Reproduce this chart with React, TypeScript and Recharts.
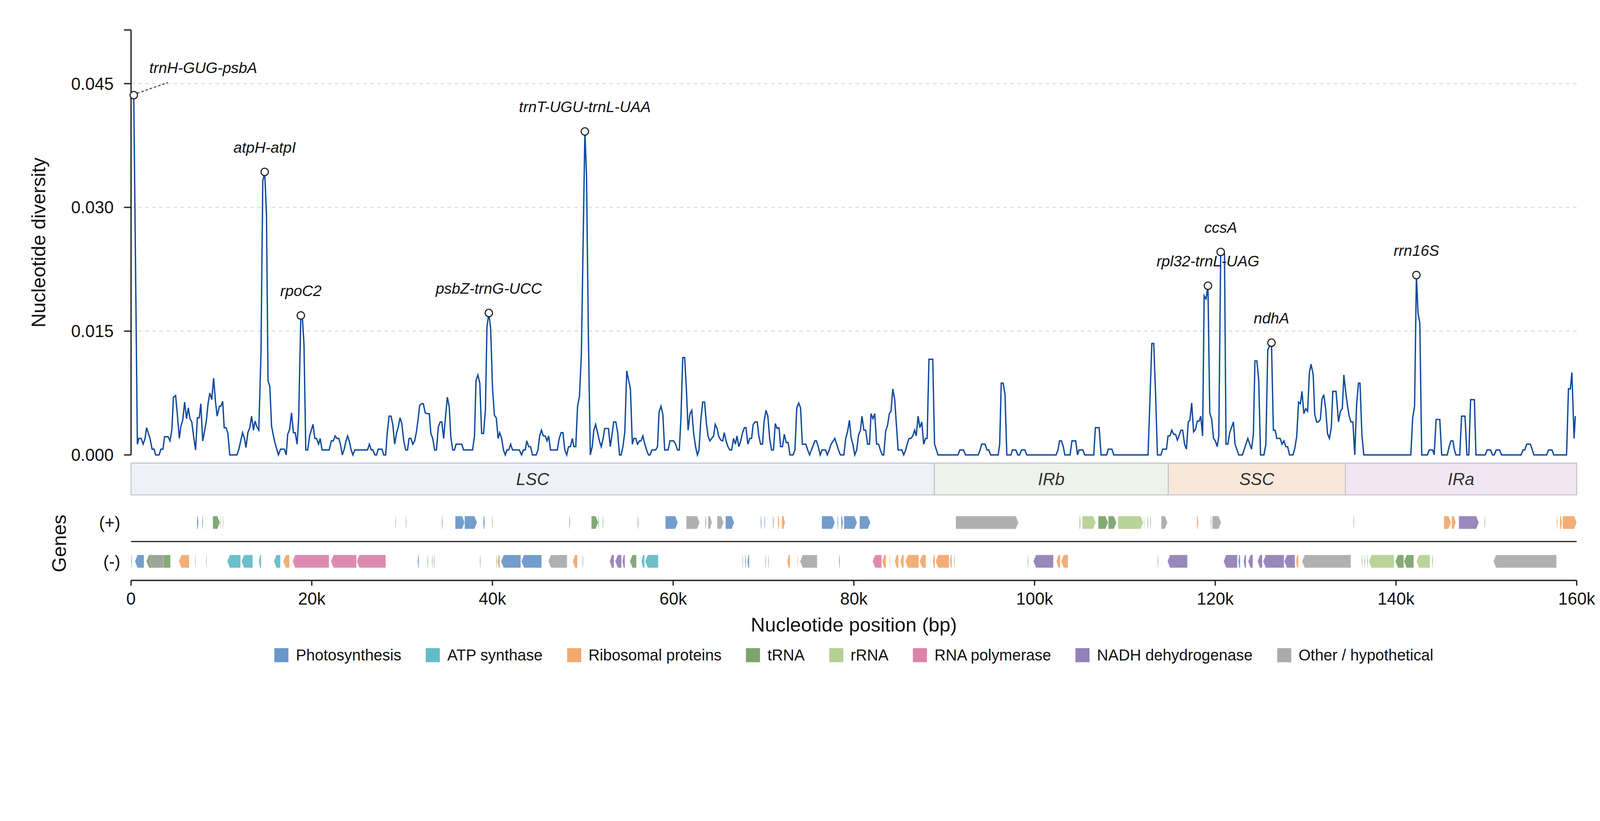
import * as React from "react";
import {
  LineChart,
  ComposedChart,
  Line,
  XAxis,
  YAxis,
  ReferenceDot,
  ReferenceArea,
  ReferenceLine,
} from "recharts";

const FONT = '"Liberation Sans", Arial, Helvetica, sans-serif';

// nucleotide diversity (Pi): [position kb, Pi]
const lscPoints: [number, number][] = [
  [0.3, 0.0436], [0.7, 0.0013], [0.86, 0.002], [1.12, 0.002], [1.34, 0.0013], [1.55, 0.002], [1.72, 0.0033],
  [2.1, 0.002], [2.33, 0.0007], [2.55, 0.0007], [2.72, 0], [3.1, 0], [3.31, 0.0007], [3.53, 0.0007],
  [3.71, 0.0022], [4.1, 0.0022], [4.31, 0.0017], [4.52, 0.0031], [4.69, 0.007], [4.93, 0.0072], [5.1, 0.0052],
  [5.34, 0.002], [5.52, 0.0035], [5.72, 0.0042], [5.93, 0.0064], [6.14, 0.0044], [6.34, 0.0057], [6.52, 0.0044],
  [6.72, 0.004], [6.93, 0.0022], [7.14, 0.0006], [7.34, 0.0045], [7.55, 0.0045], [7.72, 0.0062], [7.93, 0.0017],
  [8.14, 0.0029], [8.34, 0.0042], [8.52, 0.0062], [8.72, 0.0075], [8.93, 0.0067], [9.14, 0.0093], [9.34, 0.0065],
  [9.53, 0.0047], [9.78, 0.0059], [9.95, 0.0059], [10.14, 0.0065], [10.31, 0.0033], [10.52, 0.0033], [10.72, 0.0026],
  [10.93, 0], [11.72, 0], [11.93, 0.0007], [12.14, 0.0017], [12.34, 0.0027], [12.55, 0.002], [12.72, 0.0009],
  [12.93, 0.0027], [13.14, 0.0033], [13.34, 0.0047], [13.55, 0.003], [13.72, 0.0041], [13.93, 0.0034], [14.14, 0.003],
  [14.38, 0.0123], [14.58, 0.0332], [14.79, 0.0343], [14.99, 0.0291], [15.16, 0.009], [15.36, 0.0083], [15.55, 0.0035],
  [15.76, 0.0023], [15.97, 0.0013], [16.31, 0], [16.55, 0.0007], [16.97, 0.0007], [17.17, 0], [17.34, 0.0025],
  [17.55, 0.0031], [17.76, 0.0051], [17.97, 0.0027], [18.17, 0.0027], [18.38, 0.0013], [18.55, 0.0044], [18.79, 0.0169],
  [18.97, 0.0165], [19.14, 0.0134], [19.34, 0.0006], [19.55, 0.0006], [19.76, 0.0023], [20.14, 0.0037], [20.34, 0.002],
  [20.52, 0.002], [20.76, 0.0013], [20.93, 0.002], [21.14, 0.0006], [21.93, 0.0006], [22.17, 0.0017], [22.38, 0.0017],
  [22.59, 0.0023], [22.79, 0.002], [23.0, 0.002], [23.17, 0.0013], [23.38, 0], [23.59, 0.0007], [23.79, 0.0017],
  [23.97, 0.0023], [24.17, 0.0016], [24.34, 0.0007], [24.55, 0], [24.76, 0.0006], [26.17, 0.0006], [26.38, 0.0013],
  [26.59, 0.0006], [26.76, 0.0006], [26.98, 0], [27.18, 0], [27.35, 0.0007], [27.77, 0.0007], [27.97, 0], [28.18, 0],
  [28.35, 0.0026], [28.56, 0.0047], [28.77, 0.0047], [28.97, 0.0037], [29.18, 0.0013], [29.39, 0.0027], [29.56, 0.0033],
  [29.77, 0.0045], [29.97, 0.0038], [30.18, 0.0017], [30.39, 0.0006], [30.6, 0.0006], [30.77, 0.002], [30.97, 0.002],
  [31.18, 0.0013], [31.39, 0.0017], [31.6, 0.0029], [31.77, 0.0043], [31.94, 0.006], [32.15, 0.0062], [32.35, 0.0062],
  [32.56, 0.0051], [32.77, 0.005], [33.01, 0.005], [33.18, 0.0026], [33.39, 0.002], [33.6, 0.0006], [33.8, 0.0006],
  [34.01, 0.0034], [34.22, 0.004], [34.39, 0.004], [34.6, 0.002], [34.8, 0.0046], [35.01, 0.007], [35.22, 0.0058],
  [35.39, 0.0022], [35.6, 0.0006], [35.8, 0.0006], [35.97, 0.0013], [36.6, 0.0013], [36.8, 0.0006], [37.8, 0.0006],
  [38.01, 0.0023], [38.18, 0.009], [38.39, 0.0097], [38.6, 0.0087], [38.8, 0.0026], [39.01, 0.0026], [39.22, 0.0054],
  [39.39, 0.0155], [39.6, 0.0172], [39.8, 0.0153], [40.01, 0.008], [40.22, 0.0048], [40.42, 0.0045], [40.63, 0.002],
  [40.8, 0.0027], [41.01, 0.002], [41.22, 0.0006], [41.42, 0], [41.6, 0.0006], [41.8, 0.0006], [42.01, 0.0013],
  [42.22, 0.0006], [42.97, 0.0006], [43.22, 0], [43.42, 0.0006], [43.63, 0.0006], [43.8, 0.0017], [44.01, 0.001],
  [44.22, 0.001], [44.42, 0], [44.84, 0], [45.04, 0.0006], [45.22, 0.0023], [45.42, 0.003], [45.63, 0.0023],
  [45.84, 0.0023], [46.04, 0.0017], [46.22, 0.0023], [46.42, 0.0006], [47.18, 0.0006], [47.39, 0.002], [47.6, 0.0027],
  [47.8, 0.0027], [48.01, 0.0006], [48.22, 0], [48.42, 0.001], [48.63, 0.001], [48.84, 0.002], [49.01, 0.001],
  [49.22, 0.001], [49.42, 0.0059], [49.63, 0.0071], [49.84, 0.0122], [50.23, 0.0392], [50.41, 0.0339], [50.62, 0.0142],
  [50.83, 0], [51.04, 0.001], [51.22, 0.003], [51.42, 0.0037], [51.63, 0.0027], [51.84, 0.0017], [52.04, 0.001],
  [52.25, 0.002], [52.42, 0.0032], [52.84, 0.0032], [53.04, 0.001], [53.25, 0.0026], [53.42, 0.004], [53.65, 0.004],
  [53.86, 0.0027], [54.06, 0], [54.24, 0], [54.44, 0.001], [54.65, 0.0028], [54.86, 0.0102], [55.06, 0.0091],
  [55.27, 0.008], [55.48, 0.0013], [55.65, 0.002], [55.86, 0.002], [56.06, 0.0013], [56.27, 0.0017], [56.44, 0.0017],
  [56.65, 0.0023], [56.86, 0.0013], [57.06, 0.0006], [57.27, 0], [57.44, 0], [57.65, 0.0006], [58.06, 0.0006],
  [58.27, 0.001], [58.44, 0.0052], [58.65, 0.0059], [58.86, 0.0049], [59.06, 0.0006], [59.44, 0.0006], [59.65, 0.0017],
  [60.06, 0.0017], [60.27, 0.0013], [60.48, 0.0006], [60.68, 0.0006], [60.86, 0.0044], [61.06, 0.0118], [61.27, 0.0118],
  [61.48, 0.0076], [61.65, 0.003], [61.86, 0.005], [62.06, 0.0054], [62.27, 0.0026], [62.48, 0.001], [62.68, 0],
  [62.86, 0.0006], [63.06, 0.0042], [63.27, 0.0064], [63.48, 0.0064], [63.68, 0.0038], [63.86, 0.0023], [64.06, 0.0017],
  [64.48, 0.0023], [64.65, 0.0037], [64.86, 0.0032], [65.06, 0.0022], [65.27, 0.0018], [65.48, 0.0017], [65.65, 0.0027],
  [65.86, 0.0017], [66.06, 0.001], [66.27, 0.0006], [66.48, 0.0006], [66.68, 0.002], [66.89, 0.0013], [67.06, 0.0023],
  [67.27, 0.001], [67.48, 0.0017], [67.68, 0.0027], [67.89, 0.0033], [68.06, 0.0033], [68.27, 0.0013], [68.48, 0.002],
  [68.68, 0.002], [68.86, 0.0037], [69.06, 0.004], [69.31, 0.004], [69.48, 0.0023], [69.68, 0.0013], [69.89, 0.0013],
  [70.06, 0.004], [70.27, 0.0054], [70.48, 0.0047], [70.68, 0.002], [70.89, 0.0006], [71.1, 0.0006], [71.3, 0.0038],
  [71.51, 0.0032], [71.72, 0.0033], [71.89, 0.001], [72.1, 0.001], [72.3, 0.0025], [72.51, 0.0015], [72.72, 0.0015],
  [72.93, 0], [73.27, 0], [73.48, 0.0006], [73.68, 0.0057], [73.89, 0.0063], [74.1, 0.0057], [74.3, 0.0013],
  [74.68, 0.0013], [74.89, 0.0006], [75.1, 0], [75.3, 0.0006], [75.68, 0.0017], [75.86, 0.0017], [76.06, 0.001],
  [76.27, 0], [76.48, 0.0006], [76.86, 0.0006], [77.06, 0], [77.27, 0.0006], [77.48, 0.0013], [77.89, 0.002],
  [78.1, 0.0013], [78.3, 0.0006], [78.51, 0], [78.89, 0], [79.1, 0.002], [79.3, 0.0028], [79.51, 0.0042],
  [79.68, 0.0022], [79.89, 0.0013], [80.1, 0], [80.31, 0.0006], [80.52, 0.0024], [80.73, 0.003], [80.9, 0.0047],
  [81.11, 0.003], [81.31, 0.003], [81.52, 0.0013], [81.73, 0.0013], [81.9, 0.005], [82.11, 0.0044], [82.31, 0.005],
  [82.52, 0.0013], [82.73, 0.0013], [82.93, 0.0006], [83.14, 0], [83.31, 0], [83.52, 0.0029], [83.73, 0.0036],
  [83.93, 0.005], [84.11, 0.0053], [84.31, 0.008], [84.52, 0.0067], [84.73, 0.0033], [84.9, 0.0006], [85.31, 0.0006],
  [85.52, 0], [85.73, 0.0006], [85.9, 0.0013], [86.11, 0.002], [86.31, 0.002], [86.52, 0.0023], [86.73, 0.003],
  [86.9, 0.0023], [87.11, 0.0047], [87.31, 0.0033], [87.52, 0.004], [87.73, 0.0013], [87.93, 0.002], [88.11, 0.002],
  [88.31, 0.0116], [88.73, 0.0116],
];

const irbPoints: [number, number][] = [
  [88.93, 0.0013], [89.14, 0.0006], [89.31, 0], [91.52, 0], [91.73, 0.0006], [92.14, 0.0006], [92.35, 0],
  [93.76, 0], [93.97, 0.0006], [94.14, 0.0013], [94.52, 0.0013], [94.73, 0.0006], [94.93, 0.0006], [95.14, 0],
  [95.97, 0], [96.14, 0.0013], [96.31, 0.0087], [96.52, 0.0087], [96.73, 0.0073], [96.93, 0], [97.38, 0],
  [97.55, 0.0006], [97.93, 0.0006], [98.14, 0], [98.35, 0], [98.55, 0.0006], [98.93, 0.0006], [99.14, 0],
  [102.38, 0], [102.59, 0.0006], [102.76, 0.0017], [102.97, 0.0017], [103.18, 0.001], [103.35, 0], [103.93, 0],
  [104.14, 0.0017], [104.55, 0.0017], [104.76, 0], [104.93, 0.0006], [105.35, 0.0006], [105.55, 0], [106.55, 0],
  [106.73, 0.0033], [107.15, 0.0033], [107.36, 0], [107.98, 0], [108.15, 0.0007], [108.56, 0.0007], [108.77, 0],
  [112.56, 0], [112.98, 0.0135], [113.19, 0.0135], [113.39, 0.0075], [113.6, 0], [113.98, 0], [114.19, 0.0007],
  [114.6, 0.0007],
];

const sscPoints: [number, number][] = [
  [114.77, 0.0023], [114.98, 0.0023], [115.19, 0.003], [115.39, 0.0025], [115.6, 0.0025], [115.81, 0.0018],
  [116.01, 0.0024], [116.19, 0.003], [116.39, 0.003], [116.6, 0.0013], [116.81, 0.0007], [117.01, 0.004],
  [117.19, 0.0042], [117.39, 0.0063], [117.6, 0.0028], [117.81, 0.0031], [118.01, 0.0041], [118.22, 0.0041],
  [118.39, 0.0047], [118.6, 0.0023], [118.77, 0.0193], [118.98, 0.0189], [119.19, 0.0205], [119.39, 0.0051],
  [119.6, 0.0043], [119.81, 0.002], [120.01, 0.0017], [120.22, 0.001], [120.39, 0.0023], [120.6, 0.0246],
  [120.81, 0.0246], [121.02, 0.0244], [121.19, 0.0013], [121.39, 0.0013], [121.6, 0.0027], [122.01, 0.004],
  [122.19, 0.0013], [122.6, 0], [123.01, 0], [123.6, 0.002], [124.01, 0.0007], [124.22, 0.0025], [124.39, 0.0114],
  [124.6, 0.0114], [124.81, 0.0091], [125.01, 0], [125.39, 0], [125.6, 0.0013], [125.81, 0.0127], [126.01, 0.0132],
  [126.22, 0.0136], [126.43, 0.003], [126.63, 0.003], [126.81, 0.002], [127.18, 0.002], [127.39, 0.0013],
  [127.6, 0.0017], [127.81, 0.001], [128.01, 0.001], [128.22, 0], [128.6, 0], [128.8, 0.0008], [129.01, 0.0022],
  [129.22, 0.0064], [129.42, 0.0062], [129.6, 0.0077], [129.8, 0.005], [130.01, 0.0056], [130.22, 0.0053],
  [130.42, 0.01], [130.6, 0.011], [130.84, 0.0097], [131.01, 0.0049], [131.22, 0.004], [131.42, 0.004],
  [131.63, 0.0043], [131.8, 0.0067], [132.01, 0.0073], [132.22, 0.0056], [132.42, 0.0026], [132.63, 0.002],
  [132.84, 0.0033], [133.01, 0.0077], [133.37, 0.0077], [133.64, 0.004], [133.85, 0.0053], [134.06, 0.0056],
  [134.23, 0.0097],
];

const iraPoints: [number, number][] = [
  [134.44, 0.0076], [134.64, 0.0059], [134.82, 0.0047], [135.02, 0.004], [135.23, 0.004], [135.44, 0],
  [135.64, 0.0061], [135.85, 0.0087], [136.02, 0.0087], [136.23, 0.0024], [136.44, 0], [141.64, 0],
  [141.85, 0.0045], [142.06, 0.0059], [142.26, 0.0218], [142.44, 0.0172], [142.64, 0.016], [142.85, 0],
  [143.47, 0], [143.68, 0.0006], [144.06, 0.0006], [144.23, 0], [144.44, 0.0043], [144.85, 0.0043], [145.06, 0],
  [145.68, 0], [145.88, 0.001], [146.09, 0.0017], [146.3, 0.0017], [146.47, 0.0006], [146.64, 0], [147.06, 0],
  [147.26, 0.0047], [147.64, 0.0047], [147.85, 0], [148.06, 0], [148.26, 0.0067], [148.68, 0.0067], [148.85, 0],
  [149.88, 0], [150.09, 0.0006], [150.47, 0.0006], [150.68, 0], [150.88, 0], [151.09, 0.0006], [151.47, 0.0006],
  [151.68, 0], [153.85, 0], [154.06, 0.0006], [154.26, 0.0006], [154.47, 0.0013], [154.88, 0.0013],
  [155.09, 0.0006], [155.26, 0], [156.68, 0], [156.88, 0.0006], [157.26, 0.0006], [157.47, 0], [158.88, 0],
  [159.09, 0.008], [159.3, 0.008], [159.47, 0.01], [159.71, 0.002], [159.85, 0.0047],
];

// highly variable regions marked on the plot
const hotspotNames = [
  "trnH-GUG-psbA", "atpH-atpI", "rpoC2", "psbZ-trnG-UCC", "trnT-UGU-trnL-UAA",
  "rpl32-trnL-UAG", "ccsA", "ndhA", "rrn16S",
];
const hotspotPosKb = [0.3, 14.79, 18.79, 39.6, 50.23, 119.19, 120.6, 126.22, 142.26];
const hotspotPi = [0.0436, 0.0343, 0.0169, 0.0172, 0.0392, 0.0205, 0.0246, 0.0136, 0.0218];

// quadripartite structure
const regionNames = ["LSC", "IRb", "SSC", "IRa"];
const regionStartKb = [0, 88.9, 114.8, 134.4];
const regionEndKb = [88.9, 114.8, 134.4, 160];
const regionFills = ["#eef2f6", "#edf2ea", "#f8e8d9", "#f2e6f2"];

// gene functional classes
const categoryKeys = ["photo", "atp", "ribo", "trna", "rrna", "rpo", "ndh", "other"];
const categoryLabels = [
  "Photosynthesis", "ATP synthase", "Ribosomal proteins", "tRNA", "rRNA",
  "RNA polymerase", "NADH dehydrogenase", "Other / hypothetical",
];
const categoryColors = ["#5a8cc4", "#52b4c2", "#f0a05e", "#6e9a5d", "#aecb87", "#d875a2", "#8873b0", "#a2a2a2"];

// genes: [start kb, end kb, class]
const plusGenes: [number, number, string][] = [
  [7.29, 7.46, "photo"], [7.88, 7.98, "photo"], [9.05, 9.84, "trna"], [9.88, 9.95, "trna"], [10.15, 10.22, "trna"],
  [29.26, 29.33, "trna"], [30.4, 30.47, "photo"], [34.4, 34.5, "trna"], [35.88, 36.92, "photo"], [36.92, 38.29, "photo"],
  [38.99, 39.16, "photo"], [39.95, 40.03, "trna"], [48.5, 48.6, "trna"], [50.95, 51.71, "trna"], [51.72, 51.8, "trna"],
  [52.2, 52.28, "trna"], [56.07, 56.17, "trna"], [59.14, 60.52, "photo"], [61.45, 62.93, "other"], [63.56, 63.66, "photo"],
  [63.87, 64.29, "other"], [64.87, 65.59, "other"], [65.8, 66.76, "photo"], [69.69, 69.79, "photo"], [70.1, 70.19, "photo"],
  [71.04, 71.14, "photo"], [71.59, 71.76, "ribo"], [72.04, 72.38, "ribo"], [76.45, 77.9, "photo"], [78.18, 78.28, "photo"],
  [78.59, 78.8, "photo"], [78.9, 80.35, "photo"], [80.63, 81.83, "photo"], [91.28, 98.21, "other"], [104.98, 105.08, "trna"],
  [105.29, 106.77, "rrna"], [107.05, 108.13, "trna"], [108.16, 109.06, "trna"], [109.23, 112.03, "rrna"],
  [112.1, 112.18, "rrna"], [112.5, 112.58, "trna"], [112.8, 112.88, "trna"], [114.02, 114.71, "other"],
  [117.96, 118.13, "ribo"], [119.5, 119.58, "trna"], [119.68, 120.65, "other"], [135.3, 135.38, "trna"],
  [145.31, 146.1, "ribo"], [146.17, 146.62, "ribo"], [146.96, 149.17, "ndh"], [149.8, 149.88, "trna"],
  [157.8, 157.88, "trna"], [158.14, 158.38, "ribo"], [158.45, 160, "ribo"],
];

const minusGenes: [number, number, string][] = [
  [0.01, 0.1, "trna"], [0.43, 1.43, "photo"], [1.7, 4.36, "trna"], [2.05, 3.6, "other"], [5.29, 6.43, "ribo"],
  [7.07, 7.14, "trna"], [8.3, 8.37, "trna"], [10.64, 12.12, "atp"], [12.22, 13.46, "atp"], [14.15, 14.4, "atp"],
  [15.81, 16.53, "atp"], [16.84, 17.53, "ribo"], [17.88, 21.91, "rpo"], [22.12, 24.95, "rpo"], [24.98, 28.19, "rpo"],
  [31.71, 31.85, "photo"], [32.8, 32.88, "trna"], [33.3, 33.38, "trna"], [33.5, 33.58, "trna"], [38.6, 38.68, "trna"],
  [40.4, 40.48, "trna"], [40.54, 40.81, "ribo"], [40.95, 43.13, "photo"], [43.2, 45.44, "photo"], [46.19, 48.26, "other"],
  [48.88, 49.4, "ribo"], [49.96, 50.04, "trna"], [52.97, 53.45, "ndh"], [53.59, 54.28, "ndh"], [54.38, 54.66, "ndh"],
  [55.21, 55.93, "trna"], [56.48, 56.83, "atp"], [56.9, 58.35, "atp"], [67.66, 67.72, "photo"], [67.94, 68.05, "photo"],
  [68.21, 68.42, "photo"], [70.2, 70.28, "trna"], [70.5, 70.58, "trna"], [72.62, 72.93, "ribo"], [73.73, 73.81, "ribo"],
  [74.04, 75.94, "other"], [78.35, 78.45, "photo"], [82.07, 83.07, "rpo"], [83.13, 83.55, "ribo"], [83.94, 84.02, "ribo"],
  [84.52, 84.94, "ribo"], [85.15, 85.52, "ribo"], [85.7, 87.18, "ribo"], [87.28, 87.97, "ribo"], [88.73, 88.97, "ribo"],
  [89.04, 90.53, "ribo"], [90.63, 90.84, "ribo"], [91.1, 91.18, "trna"], [99.21, 99.29, "trna"], [99.87, 102.08, "ndh"],
  [102.43, 102.84, "ribo"], [102.94, 103.7, "ribo"], [113.6, 113.68, "trna"], [114.71, 116.92, "ndh"],
  [120.92, 122.44, "ndh"], [122.54, 122.76, "photo"], [123.13, 123.41, "ndh"], [123.64, 124.16, "ndh"],
  [124.68, 125.2, "ndh"], [125.3, 127.61, "ndh"], [127.64, 128.82, "ndh"], [128.93, 129.2, "ribo"],
  [129.61, 135.0, "other"], [136.2, 136.28, "trna"], [136.5, 136.58, "trna"], [136.8, 136.88, "trna"],
  [137.0, 139.79, "rrna"], [139.93, 140.86, "trna"], [140.89, 141.96, "trna"], [142.27, 143.76, "rrna"],
  [144.0, 144.08, "trna"], [150.79, 157.76, "other"],
];

const xTicks = [0, 20000, 40000, 60000, 80000, 100000, 120000, 140000, 160000];
const yTicks = [0, 0.015, 0.03, 0.045, 0.0515];
const gridValues = [0.015, 0.03, 0.045];

const piData = [...lscPoints, ...irbPoints, ...sscPoints, ...iraPoints].map(([kb, pi]) => ({
  pos: Math.round(kb * 1000),
  pi,
}));

const colorOf = (key: string) => categoryColors[categoryKeys.indexOf(key)];

// gene track layout (y units of the lower chart, 0 = x axis, 100 = top)
const PLUS_ROW = [42.4, 53.0];
const MINUS_ROW = [10.4, 21.0];
const REGION_ROW = [70.4, 96.6];

interface ArrowProps {
  x?: number;
  y?: number;
  width?: number;
  height?: number;
  strand: "+" | "-";
  color: string;
}

function GeneArrow({ x = 0, y = 0, width = 0, height = 0, strand, color }: ArrowProps) {
  const w = Math.max(width, 1.6);
  const head = Math.min(7, w * 0.5);
  const mid = y + height / 2;
  const pts =
    strand === "+"
      ? [[x, y], [x + w - head, y], [x + w, mid], [x + w - head, y + height], [x, y + height]]
      : [[x + head, y], [x + w, y], [x + w, y + height], [x + head, y + height], [x, mid]];
  return (
    <polygon
      points={pts.map((p) => p.join(",")).join(" ")}
      fill={color}
      fillOpacity={0.85}
      stroke="#ffffff"
      strokeOpacity={0.5}
      strokeWidth={1}
    />
  );
}

function HotspotMarker(props: { cx?: number; cy?: number; name: string; leader: boolean }) {
  const { cx = 0, cy = 0, name, leader } = props;
  return (
    <g>
      {leader && (
        <line
          x1={cx + 9}
          y1={cy - 5}
          x2={cx + 92}
          y2={cy - 34}
          stroke="#333"
          strokeWidth={2.5}
          strokeDasharray="7 5"
        />
      )}
      <circle cx={cx} cy={cy} r={10} fill="#ffffff" stroke="#222" strokeWidth={3} />
      <text
        x={leader ? cx + 42 : cx}
        y={leader ? cy - 60 : cy - 52}
        textAnchor={leader ? "start" : "middle"}
        fontSize={41}
        fontStyle="italic"
        fill="#111"
        fontFamily={FONT}
      >
        {name}
      </text>
    </g>
  );
}

export default function App() {
  const axisStroke = { stroke: "#222", strokeWidth: 3.5 };
  // the figure is laid out on a 4322 px canvas; fit it to the actual viewport width
  const fit = typeof window !== "undefined" && window.innerWidth ? window.innerWidth / 4322 : 1;
  return (
    <div
      style={{
        position: "absolute",
        left: 0,
        top: 0,
        width: 4322,
        height: 2102,
        background: "#ffffff",
        fontFamily: FONT,
        transform: `scale(${fit})`,
        transformOrigin: "0 0",
      }}
    >
      <div style={{ position: "absolute", left: 0, top: 1240 }}>
        <ComposedChart width={4322} height={480} data={piData} margin={{ top: 0, right: 63, bottom: 0, left: 0 }}>
          <XAxis
            type="number"
            dataKey="pos"
            domain={[0, 160000]}
            ticks={xTicks}
            interval={0}
            height={152}
            tickSize={14}
            tickMargin={19}
            tickLine={axisStroke}
            axisLine={axisStroke}
            tick={{ fontSize: 46, fill: "#111", fontFamily: FONT }}
            tickFormatter={(v: number) => (v === 0 ? "0" : `${v / 1000}k`)}
            label={{
              content: ({ viewBox }: any) => (
                <text
                  x={viewBox.x + viewBox.width / 2}
                  y={466}
                  textAnchor="middle"
                  fontSize={53}
                  fill="#111"
                  fontFamily={FONT}
                >
                  Nucleotide position (bp)
                </text>
              ),
            }}
          />
          <YAxis
            type="number"
            dataKey="pi"
            domain={[0, 100]}
            allowDataOverflow
            ticks={[(MINUS_ROW[0] + MINUS_ROW[1]) / 2, (PLUS_ROW[0] + PLUS_ROW[1]) / 2]}
            interval={0}
            width={354}
            tickSize={0}
            tickMargin={29}
            tickLine={false}
            axisLine={false}
            tick={{ fontSize: 46, fill: "#111", fontFamily: FONT }}
            tickFormatter={(v: number) => (v > 30 ? "(+)" : "(-)")}
            label={{
              content: () => (
                <text
                  x={178}
                  y={228}
                  textAnchor="middle"
                  fontSize={53}
                  fill="#111"
                  fontFamily={FONT}
                  transform="rotate(-90 178 228)"
                >
                  Genes
                </text>
              ),
            }}
          />
          {regionNames.map((name, i) => (
            <ReferenceArea
              key={name}
              x1={regionStartKb[i] * 1000}
              x2={regionEndKb[i] * 1000}
              y1={REGION_ROW[0]}
              y2={REGION_ROW[1]}
              fill={regionFills[i]}
              fillOpacity={1}
              stroke="#b9c1ca"
              strokeWidth={2.5}
              label={{ value: name, position: "center", fontSize: 46, fontStyle: "italic", fill: "#333" }}
            />
          ))}
          <ReferenceLine y={32} stroke="#222" strokeWidth={3} />
          {plusGenes.map(([s, e, cat], i) => (
            <ReferenceArea
              key={`p${i}`}
              x1={s * 1000}
              x2={e * 1000}
              y1={PLUS_ROW[0]}
              y2={PLUS_ROW[1]}
              shape={(p: any) => <GeneArrow {...p} strand="+" color={colorOf(cat)} />}
            />
          ))}
          {minusGenes.map(([s, e, cat], i) => (
            <ReferenceArea
              key={`m${i}`}
              x1={s * 1000}
              x2={e * 1000}
              y1={MINUS_ROW[0]}
              y2={MINUS_ROW[1]}
              shape={(p: any) => <GeneArrow {...p} strand="-" color={colorOf(cat)} />}
            />
          ))}
        </ComposedChart>
      </div>

      <div style={{ position: "absolute", left: 0, top: 0 }}>
        <LineChart width={4322} height={1280} data={piData} margin={{ top: 81, right: 63, bottom: 51, left: 0 }}>
          <XAxis
            type="number"
            dataKey="pos"
            domain={[0, 160000]}
            ticks={xTicks}
            height={0}
            tick={false}
            tickLine={false}
            axisLine={axisStroke}
          />
          <YAxis
            type="number"
            domain={[0, 0.0515]}
            ticks={yTicks}
            interval={0}
            width={354}
            tickSize={19}
            tickMargin={28}
            tickLine={axisStroke}
            axisLine={axisStroke}
            tick={{ fontSize: 46, fill: "#111", fontFamily: FONT }}
            tickFormatter={(v: number) => (v > 0.05 ? "" : v.toFixed(3))}
            label={{
              content: ({ viewBox }: any) => {
                const cy = viewBox.y + viewBox.height / 2;
                return (
                  <text
                    x={122}
                    y={cy}
                    textAnchor="middle"
                    fontSize={53}
                    fill="#111"
                    fontFamily={FONT}
                    transform={`rotate(-90 122 ${cy})`}
                  >
                    Nucleotide diversity
                  </text>
                );
              },
            }}
          />
          {gridValues.map((v) => (
            <ReferenceLine key={v} y={v} stroke="#d5dbe2" strokeWidth={2.7} strokeDasharray="10 9" />
          ))}
          <Line
            type="linear"
            dataKey="pi"
            stroke="#0f4a9c"
            strokeWidth={3.6}
            dot={false}
            activeDot={false}
            isAnimationActive={false}
          />
          {hotspotNames.map((name, i) => (
            <ReferenceDot
              key={name}
              x={Math.round(hotspotPosKb[i] * 1000)}
              y={hotspotPi[i]}
              r={10}
              shape={(p: any) => <HotspotMarker cx={p.cx} cy={p.cy} name={name} leader={i === 0} />}
            />
          ))}
        </LineChart>
      </div>

      <div
        style={{
          position: "absolute",
          left: 354,
          top: 1748,
          width: 3905,
          height: 44,
          display: "flex",
          justifyContent: "center",
          alignItems: "center",
          gap: 66,
          fontSize: 42,
          color: "#111",
        }}
      >
        {categoryLabels.map((label, i) => (
          <div key={label} style={{ display: "flex", alignItems: "center", whiteSpace: "nowrap" }}>
            <span
              style={{
                display: "inline-block",
                width: 38,
                height: 38,
                marginRight: 20,
                background: categoryColors[i],
                opacity: 0.9,
              }}
            />
            <span>{label}</span>
          </div>
        ))}
      </div>
    </div>
  );
}
